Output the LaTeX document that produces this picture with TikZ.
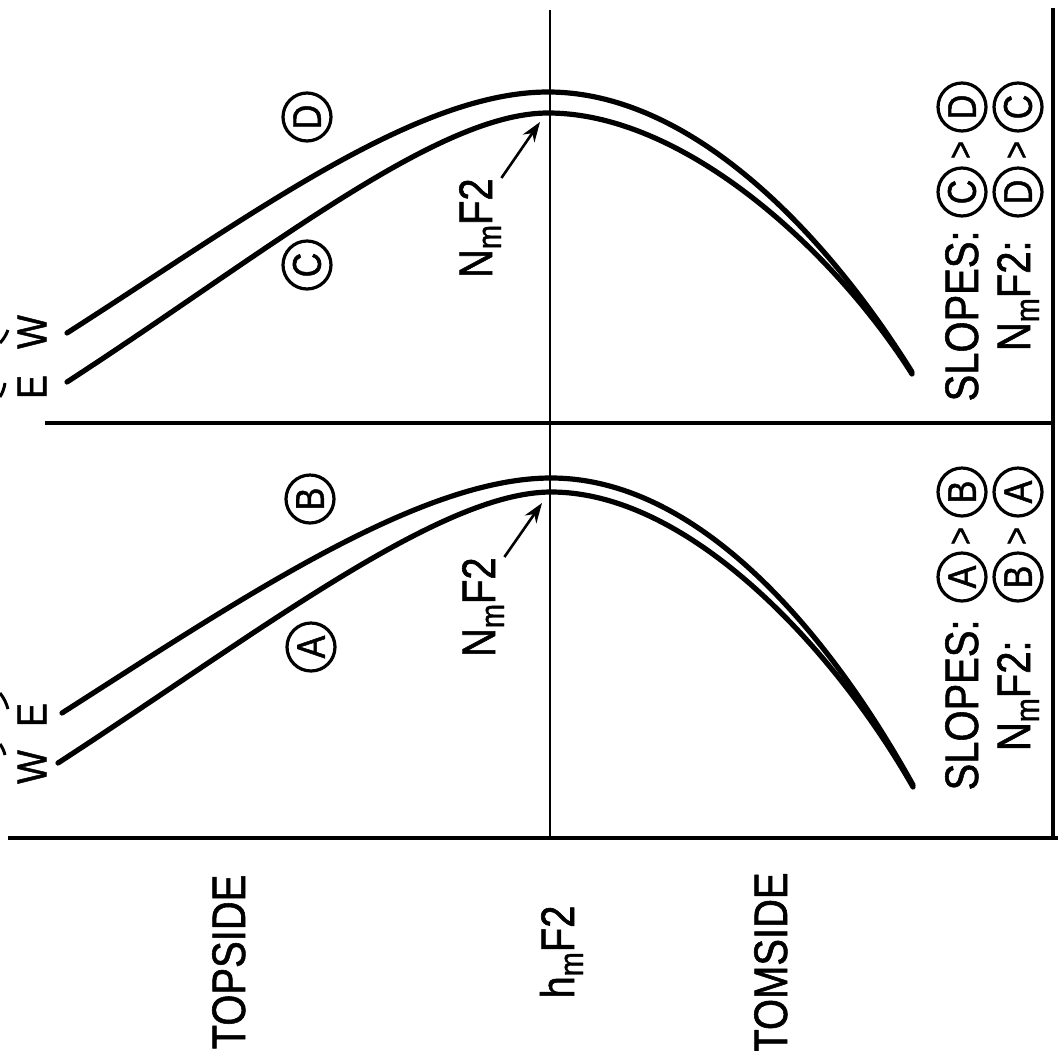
\documentclass[tikz,border=0pt]{standalone}
\usepackage{fontspec}
\setmainfont[FakeStretch=0.85, FakeBold=1.2]{Liberation Sans}
\usetikzlibrary{arrows.meta}
\newcommand{\sbm}{\raisebox{-4.5pt}{\fontsize{17}{20}\selectfont m}}
\begin{document}
\begin{tikzpicture}[x=0.5pt,y=-0.5pt,
  lbl/.style={rotate=90, inner sep=0, font=\fontsize{23.5}{28}\selectfont},
  wlbl/.style={rotate=90, inner sep=0, font=\fontsize{21}{24}\selectfont},
  circ/.style={circle, draw, line width=1.6pt, minimum size=24pt, inner sep=0, rotate=90, font=\fontsize{20}{22}\selectfont},
  gt/.style={rotate=90, inner sep=0, font=\fontsize{18}{20}\selectfont},
  prof/.style={line width=2.6pt, line cap=round},
  ax/.style={line width=1.6pt},
  arr/.style={line width=1.3pt, -{Stealth[length=10pt,width=7pt]}}]
\useasboundingbox (0,0) rectangle (1058,1050);
% frame lines
\draw[ax] (8,838) -- (1058,838);
\draw[ax] (1053,8) -- (1053,838);
\draw[ax] (45,423) -- (1053,423);
\draw[line width=1.3pt] (550,10) -- (550,838);
% axis labels
\node[lbl, anchor=base] (topside) at (245,962) {TOPSIDE};
\node[lbl, anchor=base] (hmf) at (574,952) {h\sbm F2};
\node[lbl, anchor=base east] (bottomside) at (787,872) {TOMSIDE};
% lower panel profiles
\draw[prof] (62,713) .. controls (242,598) and (420,478) .. (551,478)
  .. controls (700,478) and (830,635) .. (913,785);
\draw[prof] (58,763) .. controls (258,633) and (440,492) .. (551,492)
  .. controls (690,492) and (835,650) .. (913,787);
% upper panel profiles
\draw[prof] (67,333) .. controls (247,218) and (415,92) .. (548,92)
  .. controls (695,92) and (830,240) .. (912,372);
\draw[prof] (67,382) .. controls (267,252) and (437,113) .. (548,113)
  .. controls (685,113) and (835,252) .. (912,374);
% W / E labels
\node[wlbl] (wl) at (32,767) {W};
\node[wlbl] (el) at (32,715) {E};
\node[wlbl] (eu) at (32,387) {E};
\node[wlbl] (wu) at (32,332) {W};
\draw[line width=1.5pt] (0,693) to[bend left=10] (8,709);
\draw[line width=1.5pt] (0,744) to[bend left=10] (5,755);
\draw[line width=1.5pt] (8,330) to[bend left=10] (0,343);
\draw[line width=1.5pt] (5,383) to[bend left=10] (0,397);
% curve labels
\node[circ] (ca) at (311,647) {A};
\node[circ] (cb) at (310,499) {B};
\node[circ] (cc) at (307,265) {C};
\node[circ] (cd) at (307,117) {D};
% NmF2 labels and arrows
\node[lbl, anchor=base east] (nml) at (495,557) {N\sbm F2};
\coordinate (tipl) at (542,503);
\draw[arr] (nml.south east) -- (tipl);
\node[lbl, anchor=base east] (nmu) at (492,178) {N\sbm F2};
\coordinate (tipu) at (540,122);
\draw[arr] (nmu.south east) -- (tipu);
% lower legend
\node[lbl, anchor=base east] (sl1) at (978,619) {SLOPES:};
\node[circ] (la1) at (962,577) {A};
\node[gt] (lg1) at (962,536) {>};
\node[circ] (lb1) at (962,492) {B};
\node[lbl, anchor=base east] (sl2) at (1030,640) {N\sbm F2:};
\node[circ] (lb2) at (1018,577) {B};
\node[gt] (lg2) at (1018,536) {>};
\node[circ] (la2) at (1018,492) {A};
% upper legend
\node[lbl, anchor=base east] (su1) at (978,230) {SLOPES:};
\node[circ] (uc1) at (962,192) {C};
\node[gt] (ug1) at (962,150) {>};
\node[circ] (ud1) at (962,107) {D};
\node[lbl, anchor=base east] (su2) at (1030,240) {N\sbm F2:};
\node[circ] (ud2) at (1018,192) {D};
\node[gt] (ug2) at (1018,150) {>};
\node[circ] (uc2) at (1018,107) {C};
\end{tikzpicture}
\end{document}
